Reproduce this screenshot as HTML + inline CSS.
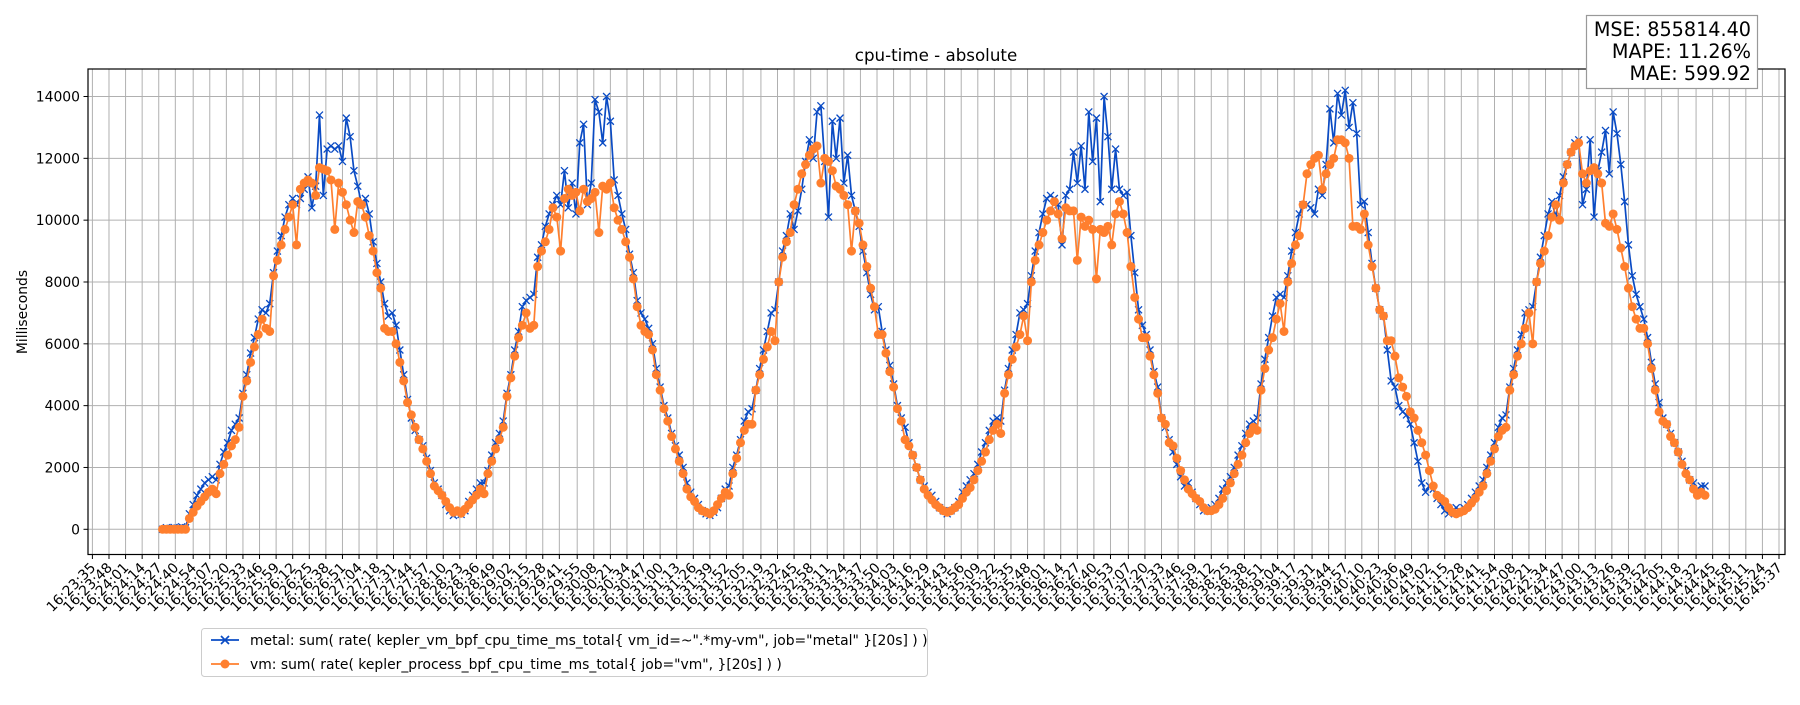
<!DOCTYPE html>
<html><head><meta charset="utf-8"><style>
html,body{margin:0;padding:0;background:#fff;}
svg text{font-family:"DejaVu Sans","Liberation Sans",sans-serif;fill:#000;}
</style></head><body>
<svg id="chart" width="1800" height="700" xmlns="http://www.w3.org/2000/svg">
<g id="grid"></g>
<g id="series"></g>
<g id="axes"></g>
<text x="936" y="61" font-size="16.7" text-anchor="middle">cpu-time - absolute</text>
<text x="0" y="0" font-size="13.9" text-anchor="middle" transform="translate(27,312) rotate(-90)">Milliseconds</text>
<g>
<rect x="1586.5" y="15.5" width="171" height="73" fill="#fff" stroke="#999" stroke-width="1.2"/>
<text x="1751" y="36" font-size="19.2" text-anchor="end">MSE: 855814.40</text>
<text x="1751" y="58" font-size="19.2" text-anchor="end">MAPE: 11.26%</text>
<text x="1751" y="80" font-size="19.2" text-anchor="end">MAE: 599.92</text>
</g>
<g>
<rect x="201.5" y="628.5" width="726" height="48" fill="#fff" stroke="#ccc" rx="3"/>
<g>
<line x1="211" y1="640" x2="239" y2="640" stroke="#0a4bc4" stroke-width="1.7"/>
<path d="M221,636 L229,644 M221,644 L229,636" stroke="#0a4bc4" stroke-width="1.7"/>
<text x="250" y="645" font-size="13.9">metal: sum( rate( kepler_vm_bpf_cpu_time_ms_total{ vm_id=~".*my-vm", job="metal" }[20s] ) )</text>
</g>
<g>
<line x1="211" y1="664" x2="239" y2="664" stroke="#ff7f2e" stroke-width="1.7"/>
<circle cx="225" cy="664" r="4.5" fill="#ff7f2e"/>
<text x="250" y="669" font-size="13.9">vm: sum( rate( kepler_process_bpf_cpu_time_ms_total{ job="vm", }[20s] ) )</text>
</g>
</g>
</svg>
<script>
// ---- data ----
const axisStartLabel = "16:23:35";
const axisSpanSec = 1322;
const tickCount = 102;
const yTicks = [0,2000,4000,6000,8000,10000,12000,14000];
const sampleStartSec = 55;   // first sample offset from axis start
const sampleStepSec = 3;
const metalValues = [
0,50,30,60,40,80,50,
500,800,1100,1300,1500,1600,1700,1600,2100,2500,2800,3200,3400,3600,4400,5000,5700,6200,6800,7100,7000,7300,8300,9000,9500,10100,10500,10700,10500,10700,11000,11400,10400,11100,
13400,10800,12300,12400,12300,12400,11900,13300,12700,11600,11100,10500,10700,10200,9300,8600,8000,7300,6900,7000,6600,5800,5000,4200,3600,3200,2900,2700,2300,1900,1500,1300,1100,800,
600,450,500,480,600,900,1100,1300,1500,1500,1900,2400,2800,3100,3500,4400,5000,5800,6400,7200,7400,7500,7600,8800,9200,9800,10200,10500,10800,10500,11600,10400,11200,
10200,12500,13100,10500,11200,13900,13500,12500,14000,13200,11300,10800,10200,9700,8900,8300,7400,7000,6800,6500,6000,5200,4600,4000,3600,3100,2700,2400,2000,1500,1200,1000,800,600,
500,450,550,700,1000,1300,1400,2000,2400,2900,3500,3800,3900,4500,5200,5800,6400,7000,7100,8000,9000,9500,10200,9700,10300,11000,11900,12600,12000,13500,13700,11900,10100,
13200,12000,13300,11200,12100,10800,10300,9800,9000,8300,7600,7100,7200,6400,5800,5300,4700,4000,3600,3300,2800,2400,2000,1600,1400,1200,1100,900,700,600,500,600,700,
900,1200,1400,1600,1800,2100,2500,2800,3200,3500,3600,3500,4500,5200,5800,6300,7000,7100,7300,8200,9000,9600,10200,10700,10800,10700,10500,9200,10800,11000,12200,11200,12400,
11000,13500,11900,13300,10600,14000,12700,11000,12300,11000,10800,10900,9500,8300,7100,6600,6300,5800,5100,4600,3600,3300,2900,2500,2100,1700,1400,1500,1200,1000,800,600,600,700,
800,1000,1300,1500,1700,2000,2400,2700,3100,3400,3500,3600,4700,5500,6200,6900,7500,7600,7500,8200,9000,9600,10200,10500,10500,10400,10200,11000,10800,11800,13600,12500,
14100,13400,14200,13000,13800,12800,10500,10600,9600,8600,7800,7100,6900,5800,4800,4600,4000,3800,3700,3400,2800,2200,1500,1200,1400,1300,1000,800,600,500,600,700,600,
700,800,1000,1200,1400,1600,2000,2400,2800,3300,3600,3700,4600,5200,5800,6300,7000,7100,7200,8000,8800,9500,10200,10600,10100,10800,11400,11800,12200,12500,12600,10500,11000,12600,
10100,11600,12200,12900,11500,13500,12800,11800,10600,9200,8200,7600,7200,6800,6200,5400,4700,4100,3600,3400,3100,2800,2500,2200,1900,1600,1500,1300,1400,1400
];
const vmValues = [
0,0,0,0,0,0,0,
350,550,750,900,1050,1200,1300,1150,1800,2100,2400,2700,2900,3300,4300,4800,5400,5900,6300,6800,6500,6400,8200,8700,9200,9700,10100,10500,9200,11000,11200,11300,11200,10800,
11700,11650,11600,11300,9700,11200,10900,10500,10000,9600,10600,10500,10100,9500,9000,8300,7800,6500,6400,6400,6000,5400,4800,4100,3700,3300,2900,2600,2200,1800,1400,1250,1100,900,
700,550,600,520,650,800,950,1100,1300,1150,1800,2200,2600,2900,3300,4300,4900,5600,6200,6600,7000,6500,6600,8500,9000,9300,9700,10400,10100,9000,10700,11000,10800,
10900,10300,11000,10600,10700,10900,9600,11100,11000,11200,10400,10000,9700,9300,8800,8100,7200,6600,6400,6300,5800,5000,4500,3900,3500,3000,2600,2200,1800,1300,1050,900,700,600,
550,500,600,800,1000,1200,1100,1800,2300,2800,3200,3400,3400,4500,5000,5500,5900,6400,6100,8000,8800,9300,9600,10500,11000,11500,11800,12100,12300,12400,11200,12000,11900,
11600,11100,11000,10800,10500,9000,10300,9900,9200,8500,7800,7200,6300,6300,5700,5100,4600,3900,3500,2900,2700,2400,2000,1600,1300,1100,950,800,700,600,550,600,700,
800,1000,1200,1350,1600,1900,2200,2500,2900,3200,3400,3100,4400,5000,5500,5900,6300,6900,6100,8000,8700,9200,9600,10000,10300,10600,10200,9400,10400,10300,10300,8700,10100,
9800,10000,9700,8100,9700,9600,9800,9200,10200,10600,10200,9600,8500,7500,6800,6200,6200,5600,5000,4400,3600,3400,2800,2700,2300,1900,1600,1300,1150,1000,900,700,600,600,
650,800,1000,1250,1500,1800,2100,2400,2800,3100,3300,3200,4500,5200,5800,6200,6800,7300,6400,8000,8600,9200,9500,10500,11500,11800,12000,12100,11000,11500,11800,12000,
12600,12600,12500,12000,9800,9800,9700,10200,9200,8500,7800,7100,6900,6100,6100,5600,4900,4600,4300,3800,3600,3200,2800,2400,1900,1400,1100,1000,900,700,550,500,550,
600,700,850,1000,1200,1400,1800,2200,2600,3000,3200,3300,4500,5000,5600,6000,6500,7000,6000,8000,8600,9000,9500,10100,10500,10000,11200,11800,12200,12400,12500,11500,11200,11600,
11700,11500,11200,9900,9800,10200,9700,9100,8500,7800,7200,6800,6500,6500,6000,5200,4500,3800,3500,3400,3000,2800,2500,2100,1800,1600,1300,1100,1200,1100
];
// ---- layout ----
const L=88, R=1785, T=69, B=554.5;
const X0=92.4, X1=1779;
const NS="http://www.w3.org/2000/svg";
function xOf(sec){ return X0 + sec*(X1-X0)/axisSpanSec; }
function yOf(v){ return 529.3 - v*(529.3-96.5)/14000; }
function mk(tag, attrs, parent){ const e=document.createElementNS(NS,tag); for(const k in attrs) e.setAttribute(k,attrs[k]); parent.appendChild(e); return e; }
function fmt(sec){ const p=axisStartLabel.split(':').map(Number); let s=p[0]*3600+p[1]*60+p[2]+sec; const h=Math.floor(s/3600); s-=h*3600; const m=Math.floor(s/60); s-=m*60; return h+':'+String(m).padStart(2,'0')+':'+String(s).padStart(2,'0'); }
const grid=document.getElementById('grid'), axes=document.getElementById('axes'), ser=document.getElementById('series');
// x ticks
for(let k=0;k<tickCount;k++){
  const sec=Math.round(k*axisSpanSec/(tickCount-1)); const x=xOf(sec);
  const gl=mk('line',{x1:x,y1:T,x2:x,y2:B,stroke:'#b0b0b0','stroke-width':1},grid);
  
  
  const tk=mk('line',{x1:x,y1:B,x2:x,y2:B+4.5,stroke:'#000','stroke-width':1},axes);
  
  
  const t=mk('text',{x:x+4,y:B+14,'font-size':13.9,'text-anchor':'end',transform:'rotate(-45,'+(x+4)+','+(B+14)+')'},axes);
  t.textContent=fmt(sec);
  
  
}
// y ticks
yTicks.forEach(v=>{
  const y=yOf(v);
  const gl=mk('line',{x1:L,y1:y,x2:R,y2:y,stroke:'#b0b0b0','stroke-width':1},grid);
  
  
  const tk=mk('line',{x1:L-4.5,y1:y,x2:L,y2:y,stroke:'#000','stroke-width':1},axes);
  
  
  const t=mk('text',{x:L-8,y:y+5,'font-size':13.9,'text-anchor':'end'},axes);
  t.textContent=String(v);
  
  
});
const frame=mk('rect',{x:L,y:T,width:R-L,height:B-T,fill:'none',stroke:'#000','stroke-width':1.2},axes);


// series
function pts(vals){ return vals.map((v,i)=>[xOf(sampleStartSec+i*sampleStepSec), yOf(v)]); }
const mp=pts(metalValues);
const ml=mk('polyline',{points:mp.map(p=>p.join(',')).join(' '),fill:'none',stroke:'#0a4bc4','stroke-width':1.7,'stroke-linejoin':'round'},ser);


const mg=mk('g',{stroke:'#0a4bc4','stroke-width':1.3},ser);


let d='';
mp.forEach(p=>{ d+='M'+(p[0]-3.5)+','+(p[1]-3.5)+'L'+(p[0]+3.5)+','+(p[1]+3.5)+'M'+(p[0]-3.5)+','+(p[1]+3.5)+'L'+(p[0]+3.5)+','+(p[1]-3.5); });
mk('path',{d:d,fill:'none'},mg);
const vp=pts(vmValues);
const vl=mk('polyline',{points:vp.map(p=>p.join(',')).join(' '),fill:'none',stroke:'#ff7f2e','stroke-width':1.7,'stroke-linejoin':'round'},ser);


const vg=mk('g',{fill:'#ff7f2e'},ser);


vp.forEach(p=>{ const c=mk('circle',{cx:p[0],cy:p[1],r:4.5},vg);
  
  
});
</script>
</body></html>
